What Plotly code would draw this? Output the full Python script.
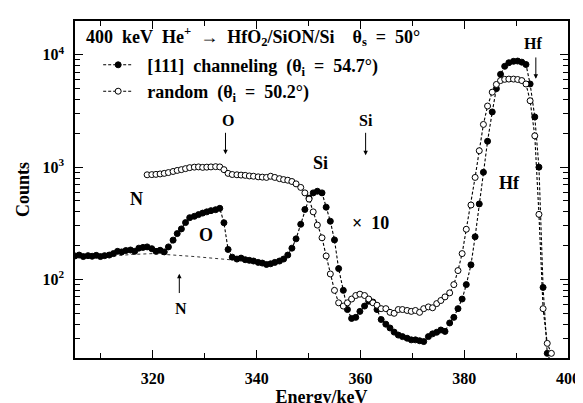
import plotly.graph_objects as go
import numpy as np

# ---------------- data ----------------
energy = [305.0, 305.8, 306.6, 307.5, 308.3, 309.1, 309.9, 310.7, 311.6, 312.4,
          313.2, 314.0, 314.8, 315.7, 316.5, 317.3, 318.1, 318.9, 319.8, 320.6,
          321.4, 322.2, 323.0, 323.9, 324.7, 325.5, 326.3, 327.1, 328.0, 328.8,
          329.6, 330.4, 331.2, 332.1, 332.9, 333.7, 334.5, 335.3, 336.2, 337.0,
          337.8, 338.6, 339.4, 340.3, 341.1, 341.9, 342.7, 343.5, 344.4, 345.2,
          346.0, 346.8, 347.6, 348.5, 349.3, 350.1, 350.9, 351.7, 352.6, 353.4,
          354.2, 355.0, 355.8, 356.7, 357.5, 358.3, 359.1, 359.9, 360.8, 361.6,
          362.4, 363.2, 364.0, 364.9, 365.7, 366.5, 367.3, 368.1, 369.0, 369.8,
          370.6, 371.4, 372.2, 373.1, 373.9, 374.7, 375.5, 376.3, 377.2, 378.0,
          378.8, 379.6, 380.4, 381.3, 382.1, 382.9, 383.7, 384.5, 385.4, 386.2,
          387.0, 387.8, 388.6, 389.5, 390.3, 391.1, 391.9, 392.7, 393.6, 394.4,
          395.2, 396.0, 396.8]

channeling = [162, 165, 160, 163, 161, 164, 160, 163, 165, 170,
              178, 176, 181, 183, 178, 190, 193, 195, 188, 178,
              182, 176, 195, 224, 256, 282, 321, 355, 365, 378,
              390, 400, 410, 418, 430, 320, 185, 158, 152, 155,
              150, 148, 146, 142, 140, 136, 138, 142, 146, 152,
              165, 190, 230, 310, 420, 530, 590, 610, 590, 440,
              330, 225, 125, 80, 54, 45, 46, 52, 58, 64,
              63, 54, 44, 40, 37, 34, 32, 31, 30, 29,
              29, 28.5, 28, 31, 32.8, 33.9, 35.5, 34.5, 41, 46,
              55, 67, 90, 135, 240, 470, 900, 1700, 3100, 5000,
              6700, 7900, 8500, 8750, 8800, 8600, 8200, 5500, 2800, 1000,
              85, 22, 18]

random_energy = energy[17:]
random_counts = [855, 858, 862, 870, 880, 895, 915, 935, 950, 970,
                 990, 1000, 1005, 995, 1000, 1005, 1010, 1005, 950, 880,
                 860, 855, 850, 845, 835, 830, 820, 815, 810, 830,
                 810, 790, 775, 765, 745, 710, 660, 590, 520, 400,
                 305, 235, 162, 112, 80, 62, 58, 62, 67, 72,
                 74, 72, 67, 62, 59, 55, 55, 51, 50, 54,
                 54, 53, 52, 53, 51, 55, 57, 56, 61, 65,
                 70, 76, 90, 120, 170, 280, 460, 810, 1400, 2400,
                 3500, 4650, 5450, 5900, 6050, 6080, 6080, 6030, 5900, 5500,
                 3900, 1900, 380, 55, 27, 22]

baseline_energy = [312.4, 316.0, 320.0, 324.0, 328.0, 332.0, 335.5]
baseline_counts = [162, 167, 170, 166, 160, 154, 149]

x_major = [320, 340, 360, 380, 400]
x_minor = [310, 330, 350, 370, 390]
y_major = [100, 1000, 10000]
y_major_text = ["10<sup>2</sup>", "10<sup>3</sup>", "10<sup>4</sup>"]
y_minor = [m * d for d in (10, 100, 1000) for m in range(2, 10)]

FONT = "Liberation Serif"
NB = "\u00a0"

fig = go.Figure()

fig.add_trace(go.Scatter(
    x=baseline_energy, y=baseline_counts, mode="lines",
    line=dict(color="black", width=0.8, dash="dot"),
    showlegend=False, hoverinfo="skip"))

fig.add_trace(go.Scatter(
    x=energy, y=channeling, mode="lines+markers",
    name=NB * 2 + "[111]" + NB * 2 + "channeling" + NB * 2 + "(θ<sub>i</sub>" + NB * 2 + "=" + NB * 2 + "54.7°)",
    line=dict(color="black", width=1.1, dash="3px,2px"),
    marker=dict(symbol="circle", size=6, color="black",
                line=dict(color="black", width=1))))

fig.add_trace(go.Scatter(
    x=random_energy, y=random_counts, mode="lines+markers",
    name=NB * 2 + "random" + NB * 2 + "(θ<sub>i</sub>" + NB * 2 + "=" + NB * 2 + "50.2°)",
    line=dict(color="black", width=1.1, dash="3px,2px"),
    marker=dict(symbol="circle", size=6, color="white",
                line=dict(color="black", width=1))))

ann = []


def text(x, y, s, size=17):
    ann.append(dict(x=x, y=y, xref="x", yref="y", text=s, showarrow=False,
                    font=dict(family=FONT, size=size, color="black", weight="bold")))


def arrow(x, y_tip, y_tail):
    ann.append(dict(x=x, y=y_tip, ax=x, ay=y_tail, xref="x", yref="y",
                    axref="x", ayref="y", text="", showarrow=True,
                    arrowhead=2, arrowsize=0.9, arrowwidth=1, arrowcolor="black"))


text(334.5, 3.413, "O", 16)
arrow(334.0, 3.115, 3.319)
text(361.1, 3.419, "Si", 16)
arrow(361.0, 3.105, 3.319)
text(393.2, 4.103, "Hf", 16)
arrow(393.8, 3.786, 3.99)
text(316.9, 2.718, "N", 18)
text(330.2, 2.393, "O", 18)
text(325.4, 1.738, "N", 16)
arrow(325.1, 2.051, 1.866)
text(352.3, 3.034, "Si", 18)
text(362.0, 2.507, "×" + NB * 2 + "10", 18)
text(388.8, 2.863, "Hf", 18)

ann.append(dict(
    x=0.018, y=0.955, xref="paper", yref="paper", xanchor="left", yanchor="middle",
    showarrow=False,
    text="400" + NB * 2 + "keV" + NB * 2 + "He<sup>+</sup>" + NB * 2 + "→" + NB * 2 +
         "HfO<sub>2</sub>/SiON/Si" + NB * 4 + "θ<sub>s</sub>" + NB * 2 + "=" + NB * 2 + "50°",
    font=dict(family=FONT, size=18, color="black", weight="bold")))

axis_common = dict(
    showline=True, linecolor="black", linewidth=1.5, mirror="ticks",
    ticks="inside", ticklen=8, tickwidth=1.2, tickcolor="black",
    showgrid=False, zeroline=False,
    tickfont=dict(family=FONT, size=16, color="black", weight="bold"),
)

fig.update_layout(
    width=583, height=403,
    margin=dict(l=67, r=14, t=11, b=40),
    paper_bgcolor="white", plot_bgcolor="white",
    font=dict(family=FONT, color="black"),
    showlegend=True,
    legend=dict(x=0.047, y=0.924, xanchor="left", yanchor="top",
                bgcolor="rgba(0,0,0,0)", borderwidth=0,
                font=dict(family=FONT, size=18, color="black", weight="bold"),
                tracegroupgap=0),
    annotations=ann,
    xaxis=dict(
        range=[305, 400], tickvals=x_major, ticklabelstandoff=5,
        minor=dict(tickvals=x_minor, ticks="inside", ticklen=5, tickwidth=1, tickcolor="black"),
        title=dict(text="Energy/keV", standoff=0,
                   font=dict(family=FONT, size=18, color="black", weight="bold")),
        **axis_common),
    yaxis=dict(
        type="log", range=[np.log10(20), np.log10(20000)],
        tickvals=y_major, ticktext=y_major_text, ticklabelstandoff=6,
        minor=dict(tickvals=y_minor, ticks="inside", ticklen=5, tickwidth=1, tickcolor="black"),
        title=dict(text="Counts", standoff=8,
                   font=dict(family=FONT, size=18, color="black", weight="bold")),
        **axis_common),
)

fig.write_html("out.html")
